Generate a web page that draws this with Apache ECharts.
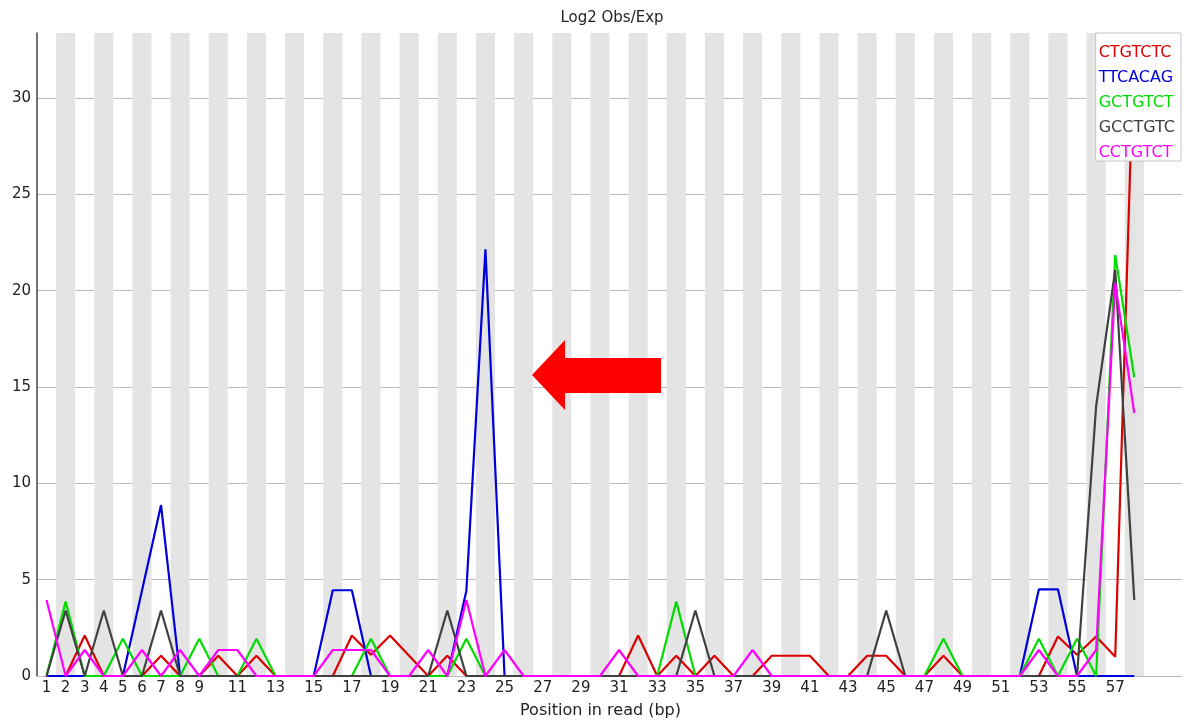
<!DOCTYPE html>
<html>
<head>
<meta charset="utf-8">
<script src="https://cdn.jsdelivr.net/npm/echarts@6/dist/echarts.min.js"></script>
<style>
html,body{margin:0;padding:0;background:#fff;}
#chart{width:1186px;height:725px;}
</style>
</head>
<body>
<div id="chart"></div>
<script>
// Positions in read (bp); plot spans 60 bands, data on 1..58
const positions = [];
for (let i = 1; i <= 60; i++) positions.push(String(i));

const tickLabels = ['1','2','3','4','5','6','7','8','9','11','13','15','17','19','21','23','25','27','29','31','33','35','37','39','41','43','45','47','49','51','53','55','57'];

const kmerNames = ['CTGTCTC', 'TTCACAG', 'GCTGTCT', 'GCCTGTC', 'CCTGTCT'];

const CTGTCTC = [0,0,2.1,0,0,0,1.05,0,0,1.05, 0,1.05,0,0,0,0,2.1,1.1,2.1,1.05, 0,1.05,0,0,0,0,0,0,0,0, 0,2.1,0,1.05,0,1.05,0,0,1.05,1.05, 1.05,0,0,1.05,1.05,0,0,1.05,0,0, 0,0,0,2.05,1.1,2.05,1.0,33.37];
const TTCACAG = [0,0,0,0,0,4.43,8.87,0,0,0, 0,0,0,0,0,4.45,4.45,0,0,0, 0,0,4.43,22.14,0,0,0,0,0,0, 0,0,0,0,0,0,0,0,0,0, 0,0,0,0,0,0,0,0,0,0, 0,0,4.5,4.5,0,0,0,0];
const GCTGTCT = [0,3.86,0,0,1.93,0,0,0,1.93,0, 0,1.93,0,0,0,0,0,1.93,0,0, 0,0,1.93,0,0,0,0,0,0,0, 0,0,0,3.86,0,0,0,0,0,0, 0,0,0,0,0,0,0,1.93,0,0, 0,0,1.93,0,1.93,0,21.85,15.5];
const GCCTGTC = [0,3.4,0,3.4,0,0,3.4,0,0,0, 0,0,0,0,0,0,0,0,0,0, 0,3.4,0,0,0,0,0,0,0,0, 0,0,0,0,3.4,0,0,0,0,0, 0,0,0,0,3.4,0,0,0,0,0, 0,0,0,0,0,14.0,21.07,3.94];
const CCTGTCT = [3.94,0,1.35,0,0,1.35,0,1.35,0,1.35, 1.35,0,0,0,0,1.35,1.35,1.35,0,0, 1.35,0,3.94,0,1.35,0,0,0,0,0, 1.35,0,0,0,0,0,0,1.35,0,0, 0,0,0,0,0,0,0,0,0,0, 0,0,1.35,0,0,1.35,20.4,13.65];

const seriesValues = [CTGTCTC, TTCACAG, GCTGTCT, GCCTGTC, CCTGTCT];
const seriesColors = ['#dc0000', '#0000dc', '#00dc00', '#404040', '#ff00ff'];

const yMax = 33.37;
const FONT = 'DejaVu Sans';

const stripeColors = positions.map((p, i) => (i % 2 === 1 && i < 58) ? '#e4e4e4' : 'rgba(255,255,255,0)');

const chart = echarts.init(document.getElementById('chart'), null, {renderer: 'canvas'});

const option = {
  animation: false,
  backgroundColor: '#ffffff',
  title: {
    text: 'Log2 Obs/Exp',
    left: 607,
    top: 6,
    textAlign: 'center',
    textStyle: {fontFamily: FONT, fontSize: 15, fontWeight: 'normal', color: '#222'}
  },
  grid: {left: 37, right: 4, top: 33, bottom: 49, containLabel: false},
  legend: {
    orient: 'vertical',
    right: 5,
    top: 33,
    align: 'left',
    padding: [12, 6, 0, -2],
    itemGap: 9,
    itemWidth: 0,
    itemHeight: 0,
    backgroundColor: '#ffffff',
    borderColor: '#c4c4c4',
    borderWidth: 1,
    selectedMode: false,
    textStyle: {fontFamily: FONT, fontSize: 16, lineHeight: 16},
    data: kmerNames.map((n, i) => ({name: n, icon: 'rect', textStyle: {color: seriesColors[i]}}))
  },
  xAxis: {
    type: 'category',
    data: positions,
    boundaryGap: true,
    name: 'Position in read (bp)',
    nameLocation: 'middle',
    nameGap: 27,
    nameTextStyle: {fontFamily: FONT, fontSize: 16, color: '#222', padding: [0, 18, 0, 0]},
    axisLine: {show: true, lineStyle: {color: '#bcbcbc', width: 1}},
    axisTick: {show: false},
    axisLabel: {
      interval: 0,
      margin: 5,
      hideOverlap: false,
      fontFamily: FONT,
      fontSize: 15,
      color: '#222',
      formatter: v => tickLabels.indexOf(v) >= 0 ? v : ''
    },
    splitLine: {show: false},
    splitArea: {show: true, interval: 0, areaStyle: {color: stripeColors}}
  },
  yAxis: {
    type: 'value',
    min: 0,
    max: yMax,
    interval: 5,
    axisLine: {show: true, lineStyle: {color: '#444', width: 1.5}},
    axisTick: {show: false},
    axisLabel: {margin: 6, fontFamily: FONT, fontSize: 15, color: '#222', showMaxLabel: false},
    splitLine: {show: true, showMinLine: false, showMaxLine: false, lineStyle: {color: '#bcbcbc', width: 1}}
  },
  series: kmerNames.map((n, i) => ({
    name: n,
    type: 'line',
    data: seriesValues[i],
    showSymbol: false,
    symbol: 'none',
    color: seriesColors[i],
    lineStyle: {color: seriesColors[i], width: 2.2},
    z: 2 + i
  })),
  graphic: [{
    type: 'polygon',
    z: 100,
    shape: {points: [[532,375],[565,340],[565,358],[661,358],[661,393],[565,393],[565,410]]},
    style: {fill: '#ff0000'}
  }]
};

chart.setOption(option);
</script>
</body>
</html>
